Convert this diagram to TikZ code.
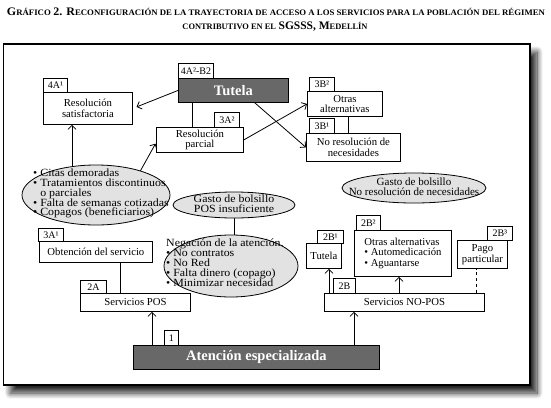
\documentclass[tikz,border=0pt]{standalone}
\usepackage{fontspec}
\usepackage{graphicx}
\setmainfont{Liberation Serif}
\usetikzlibrary{arrows.meta,shadows.blur,calc,shapes.geometric}
\pgfdeclarelayer{frame}
\pgfdeclarelayer{background}
\pgfsetlayers{frame,background,main}
\definecolor{darkbox}{RGB}{104,104,104}
\definecolor{ellfill}{RGB}{226,226,226}
\newcommand\bigc[1]{{\fontsize{11.5}{13}\selectfont #1}}
\newcommand\smc[1]{{\fontsize{8.4}{13}\selectfont #1}}
\newcommand\bul{•\ }
\begin{document}
\begin{tikzpicture}[x=1pt,y=-1pt,
 box/.style={draw, fill=white, line width=0.8pt, inner sep=0pt, align=center, anchor=north west, font=\fontsize{10.7}{10.5}\selectfont},
 tag/.style={box, font=\fontsize{10}{10}\selectfont},
 dark/.style={draw, fill=darkbox, line width=0.9pt, inner sep=0pt, anchor=north west, text=white, font=\fontsize{14.5}{15}\selectfont\bfseries},
 ell/.style={draw, ellipse, fill=ellfill, line width=0.8pt, inner sep=0pt},
 etext/.style={inner sep=0pt, align=left, font=\fontsize{11}{9.9}\selectfont\addfontfeature{FakeStretch=1.08}},
 arr/.style={line width=0.8pt, -{Straight Barb[length=4pt,width=8pt]}},
 con/.style={line width=0.8pt},
]
\lineskiplimit=-20pt
\useasboundingbox (0,0) rectangle (551,407);
% title
\node[anchor=base, inner sep=0pt] (t1) at (276,15) {\resizebox{538pt}{\height}{\bfseries\bigc{G}\smc{RÁFICO} \bigc{2. R}\smc{ECONFIGURACIÓN DE LA TRAYECTORIA DE ACCESO A LOS SERVICIOS PARA LA POBLACIÓN DEL RÉGIMEN}}};
\node[anchor=base, inner sep=0pt] (t2) at (275,29) {\bfseries\smc{CONTRIBUTIVO EN EL} \bigc{SGSSS, M}\smc{EDELLÍN}};
% frame
\begin{pgfonlayer}{frame}
\draw[line width=1.2pt, fill=white, blur shadow={shadow xshift=7pt, shadow yshift=-8pt, shadow blur radius=6pt, shadow opacity=85, shadow blur steps=12}] (3.5,44) rectangle (530,385);
\end{pgfonlayer}
% top part
\node[tag, minimum width=24, minimum height=14] (l4A1) at (43,78) {4A¹};
\node[box, minimum width=89, minimum height=32] (sat) at (43,92) {Resolución\\satisfactoria};
\node[tag, minimum width=35, minimum height=15] (l4A2) at (178,63) {4A²-B2};
\node[dark, minimum width=110, minimum height=24] (tutela) at (178,78) {Tutela};
\node[tag, minimum width=25, minimum height=15] (l3A2) at (214,112) {3A²};
\node[box, minimum width=87, minimum height=25] (parcial) at (156,127) {Resolución\\parcial};
\node[tag, minimum width=25, minimum height=14] (l3B2) at (309,77) {3B²};
\node[box, minimum width=75, minimum height=25] (otras3) at (307,91) {Otras\\alternativas};
\node[tag, minimum width=25, minimum height=15] (l3B1) at (309,118) {3B¹};
\node[box, minimum width=94, minimum height=28] (nores) at (306,133) {No resolución de\\necesidades};
% ellipses
\node[ell, minimum width=148, minimum height=60] (e1) at (96,195) {};
\node[etext, anchor=west] (e1t) at (33,193.5) {\bul Citas demoradas\\\bul Tratamientos discontinuos\\\hphantom{\bul}o parciales\\\bul Falta de semanas cotizadas\\\bul Copagos (beneficiarios)};
\node[ell, minimum width=122, minimum height=26] (e2) at (234,205) {};
\node[etext, align=center] (e2t) at (234,204) {Gasto de bolsillo\\POS insuficiente};
\node[ell, minimum width=134, minimum height=62] (e3) at (231,266) {};
\node[etext, anchor=west] (e3t) at (166,263) {Negación de la atención.\\\bul No contratos\\\bul No Red\\\bul Falta dinero (copago)\\\bul Minimizar necesidad};
\node[ell, minimum width=144, minimum height=30] (e4) at (414,188) {};
\node[etext, align=center, font=\fontsize{11}{9.9}\selectfont] (e4t) at (414,187) {Gasto de bolsillo\\No resolución de necesidades};
% lower left
\node[tag, minimum width=25, minimum height=13] (l3A1) at (38,228) {3A¹};
\node[box, minimum width=113, minimum height=21] (obt) at (39,241) {Obtención del servicio};
\node[tag, minimum width=26, minimum height=13] (l2A) at (80,280) {2A};
\node[box, minimum width=110, minimum height=18] (pos) at (80,293) {Servicios POS};
\node[tag, minimum width=14, minimum height=15] (l1) at (164,330) {1};
\node[dark, minimum width=246, minimum height=24] (aten) at (133,345) {Atención especializada};
% lower right
\node[box, minimum width=160, minimum height=18] (nopos) at (324,293) {Servicios NO-POS};
\node[tag, minimum width=22, minimum height=15] (l2B) at (333,278) {2B};
\node[box, minimum width=35, minimum height=25] (tut2) at (306,243) {Tutela};
\node[tag, minimum width=26, minimum height=13] (l2B1) at (317,230) {2B¹};
\node[box, minimum width=97, minimum height=46, align=left] (otras2) at (354,230) {Otras alternativas\\\bul Automedicación\\\bul Aguantarse};
\node[tag, minimum width=24, minimum height=15] (l2B2) at (356,215) {2B²};
\node[box, minimum width=50, minimum height=28] (pago) at (457,240) {Pago\\particular};
\node[tag, minimum width=25, minimum height=14] (l2B3) at (487,226) {2B³};
% connectors
\coordinate (c1) at ([xshift=-24pt]e1.center);
\coordinate (c2) at ([xshift=81pt]obt.south west);
\coordinate (c3) at ([xshift=19pt]aten.north west);
\coordinate (c4) at ([xshift=221pt]aten.north west);
\coordinate (c5) at ([xshift=5pt]nopos.north west);
\coordinate (c6) at ([xshift=75pt]nopos.north west);
\coordinate (c7) at ([xshift=152pt]nopos.north west);
\begin{pgfonlayer}{background}
\draw[arr, shorten >=4pt] (tutela.west) -- (sat.east);
\draw[arr] ([xshift=-34pt]tutela.south east) -- (nores.west);
\draw[arr] (parcial.east) -- (otras3.west);
\draw[con] ([xshift=14pt]tutela.south west) -- ([xshift=36pt]parcial.north west);
\draw[con] ([xshift=41pt]otras3.south west) -- ([xshift=42pt]nores.north west);
\draw[arr] (c1) -- (c1 |- sat.south);
\draw[arr, shorten >=1pt] ($(e1.center)+(41,-18)$) -- ($(parcial.south west)+(0,-10)$);
\draw[con] (e2.center) -- (e2.center |- e3.center);
\draw[con] (c2) -- (c2 |- pos.north);
\draw[arr] (c3) -- (c3 |- pos.south);
\draw[arr] (c4) -- (c4 |- nopos.south);
\draw[arr] (c5) -- (c5 |- tut2.south);
\draw[arr] (c6) -- (c6 |- otras2.south);
\draw[con, dashed] (c7) -- (c7 |- pago.south);
\end{pgfonlayer}
\end{tikzpicture}
\end{document}
